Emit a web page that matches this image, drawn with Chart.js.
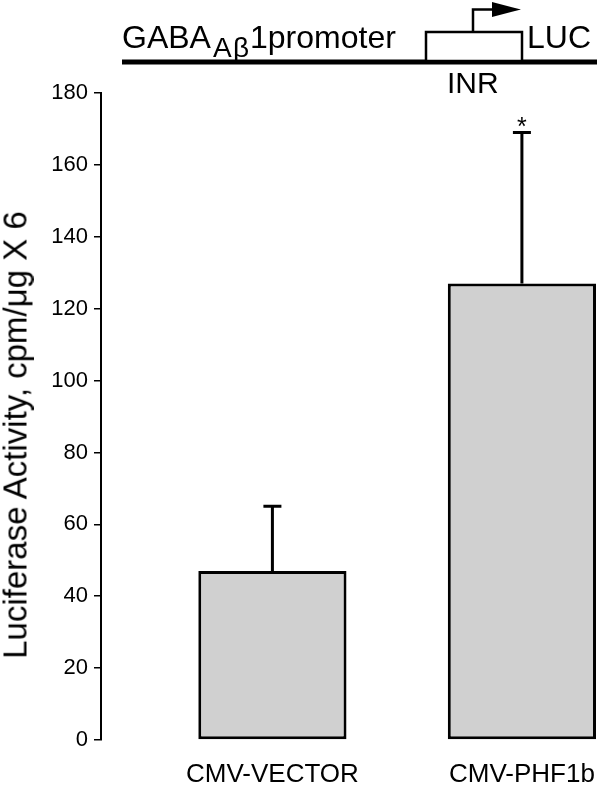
<!DOCTYPE html>
<html>
<head>
<meta charset="utf-8">
<script src="https://cdn.jsdelivr.net/npm/chart.js@4.4.1/dist/chart.umd.min.js"></script>
<style>
  html, body { margin: 0; padding: 0; background: #fff; }
  #wrap { position: relative; width: 600px; height: 787px; overflow: hidden; }
  #c { position: absolute; left: 0; top: 0; }
  #diagram { position: absolute; left: 0; top: 0; }
  #diagram text { font-family: "Liberation Sans", Arial, Helvetica, sans-serif; fill: #000; }
  #ytitle {
    position: absolute; left: 15px; top: 435px;
    transform: translate(-50%, -50%) rotate(-90deg);
    white-space: nowrap;
    font-family: "Liberation Sans", Arial, Helvetica, sans-serif;
    font-size: 33px; line-height: 1; color: #000;
  }
</style>
</head>
<body>
<div id="wrap">
  <canvas id="c" width="600" height="787"></canvas>
  <svg id="diagram" width="600" height="100" xmlns="http://www.w3.org/2000/svg">
    <rect x="122" y="59.5" width="475" height="5" fill="#000"/>
    <rect x="426" y="32" width="96" height="29" fill="#fff" stroke="#000" stroke-width="2.5"/>
    <polyline points="473,32 473,9.5 495,9.5" fill="none" stroke="#000" stroke-width="2.5"/>
    <polygon points="492,2 521,9.5 492,17" fill="#000"/>
    <text x="122" y="48" font-size="32">GABA</text>
    <text x="213" y="57" font-size="28">A</text>
    <text x="233" y="57" font-size="28">β</text>
    <text x="250" y="48" font-size="32">1promoter</text>
    <text x="527" y="48" font-size="32">LUC</text>
    <text x="447" y="93" font-size="30">INR</text>
  </svg>
  <div id="ytitle">Luciferase Activity, cpm/μg X 6</div>
</div>
<script>
// ---- data ----
const categories = ['CMV-VECTOR', 'CMV-PHF1b'];
const categoryPositions = [1, 2];
const meanValues = [47, 127];
const errorUpper = [65, 169];
const significance = ['', '*'];
const yTicks = [0, 20, 40, 60, 80, 100, 120, 140, 160, 180];

const FONT = '"Liberation Sans", Arial, Helvetica, sans-serif';

const errorBarPlugin = {
  id: 'errorBars',
  afterDatasetsDraw(chart) {
    const ctx = chart.ctx;
    const xs = chart.scales.x, ys = chart.scales.y;
    ctx.save();
    ctx.strokeStyle = '#000';
    ctx.lineWidth = 3;
    ctx.lineCap = 'butt';
    for (let i = 0; i < meanValues.length; i++) {
      const x = xs.getPixelForValue(categoryPositions[i]);
      const yb = ys.getPixelForValue(meanValues[i]);
      const yt = ys.getPixelForValue(errorUpper[i]);
      ctx.beginPath();
      ctx.moveTo(x, yb);
      ctx.lineTo(x, yt);
      ctx.moveTo(x - 9, yt);
      ctx.lineTo(x + 9, yt);
      ctx.stroke();
      if (significance[i]) {
        ctx.fillStyle = '#000';
        ctx.font = '25px ' + FONT;
        ctx.textAlign = 'center';
        ctx.textBaseline = 'alphabetic';
        ctx.fillText(significance[i], x, yt + 2);
      }
    }
    ctx.restore();
  }
};

new Chart(document.getElementById('c'), {
  type: 'bar',
  data: {
    datasets: [{
      data: categoryPositions.map((x, i) => ({ x: x, y: meanValues[i] })),
      backgroundColor: '#d0d0d0',
      borderColor: '#000',
      borderWidth: 3,
      borderSkipped: false,
      barPercentage: 0.594,
      categoryPercentage: 1.0
    }]
  },
  options: {
    responsive: false,
    animation: false,
    devicePixelRatio: 1,
    layout: { padding: { top: 93, right: 0, left: 0, bottom: 0 } },
    plugins: { legend: { display: false }, tooltip: { enabled: false } },
    scales: {
      x: {
        type: 'linear',
        offset: false,
        min: 0.313,
        max: 2.313,
        grid: { display: false, drawTicks: false },
        border: { display: false },
        afterBuildTicks(scale) { scale.ticks = categoryPositions.map(v => ({ value: v })); },
        afterFit(scale) { scale.height = 47; scale.paddingLeft = 0; scale.paddingRight = 0; },
        ticks: {
          padding: 19,
          color: '#000',
          font: { family: FONT, size: 26 },
          maxRotation: 0,
          autoSkip: false,
          callback: (v) => categories[categoryPositions.indexOf(v)]
        }
      },
      y: {
        min: 0,
        max: 180,
        afterBuildTicks(scale) { scale.ticks = yTicks.map(v => ({ value: v })); },
        afterFit(scale) { scale.width = 101; },
        grid: { display: true, drawOnChartArea: false, drawTicks: true, tickLength: 7, color: '#000', lineWidth: 1.5 },
        border: { display: true, color: '#000', width: 2 },
        ticks: {
          padding: 6,
          color: '#000',
          font: { family: FONT, size: 22 }
        },
        title: { display: false }
      }
    }
  },
  plugins: [errorBarPlugin]
});
</script>
</body>
</html>
